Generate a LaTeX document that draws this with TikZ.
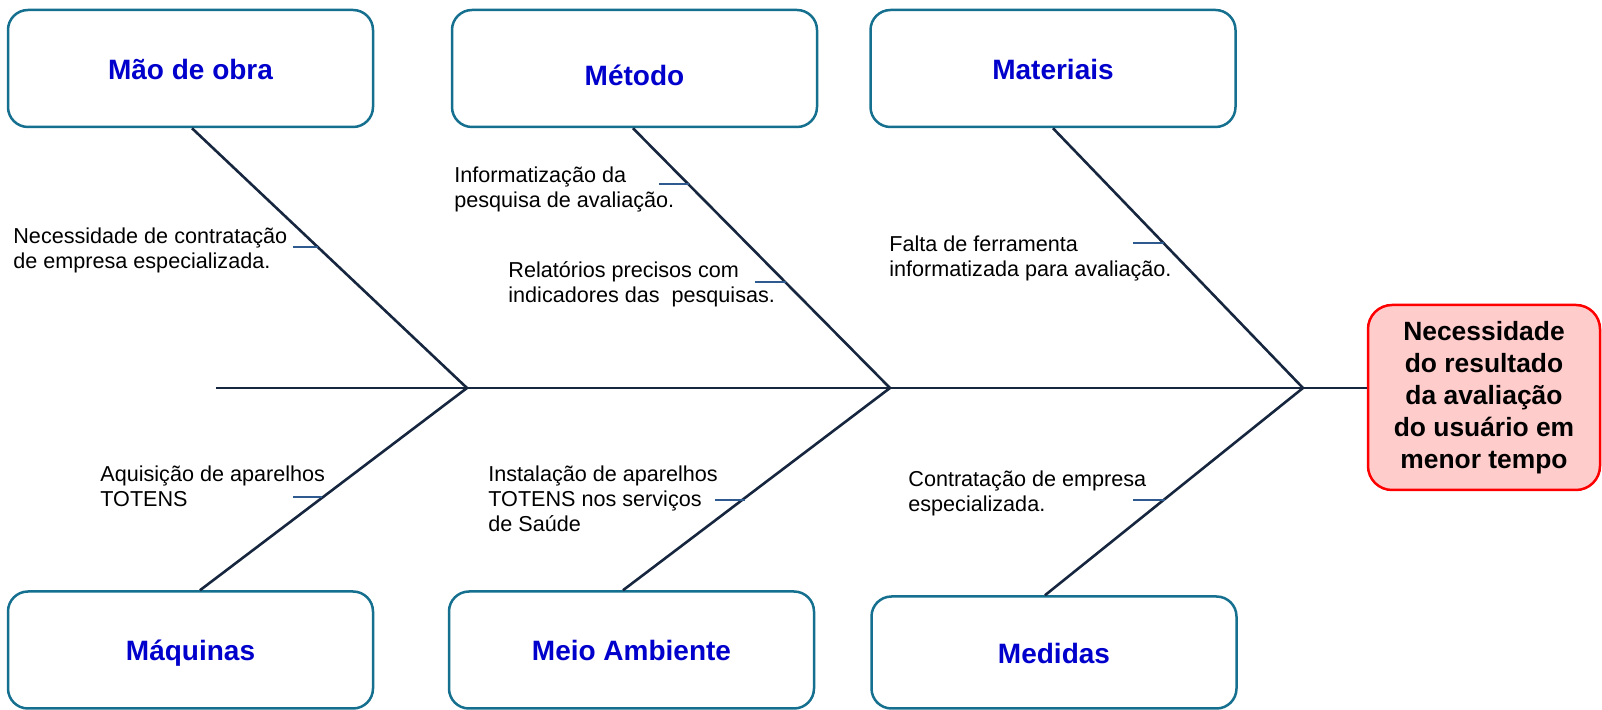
\documentclass[tikz,border=0pt]{standalone}
\usepackage{fontspec}
\setmainfont{Liberation Sans}
\definecolor{boxc}{HTML}{15708F}
\definecolor{titc}{HTML}{0000CC}
\definecolor{bonec}{HTML}{17263F}
\definecolor{tickc}{HTML}{2F5A8F}
\definecolor{effc}{HTML}{FFCCCC}
\definecolor{effd}{HTML}{FF0000}
\begin{document}
\begin{tikzpicture}[x=0.5pt,y=-0.5pt,
  cat/.style={draw=boxc, line width=1.25pt, rounded corners=10pt,
    minimum width=182.5pt, minimum height=58.5pt, inner sep=0pt, fill=white,
    font=\fontsize{14}{16}\selectfont\bfseries, text=titc,
    text height=11pt, text depth=0pt},
  bone/.style={draw=bonec, line width=1.3pt},
  tickl/.style={draw=tickc, line width=1pt},
  lbl/.style={anchor=base west, inner sep=0pt,
    font=\fontsize{10.8}{12.5}\selectfont, text=black},
  effect/.style={draw=effd, fill=effc, line width=1.25pt, rounded corners=12pt,
    minimum width=116pt, minimum height=92.5pt, inner sep=0pt, align=center,
    font=\fontsize{13.2}{16}\selectfont\bfseries, text=black}]
\useasboundingbox (0,0) rectangle (1602,710);

% category boxes
\node[cat] (mao) at (190.5,68.5) {Mão de obra};
\node[cat, text height=17.5pt] (met) at (634.5,68.5) {Método};
\node[cat] (mat) at (1053,68.5) {Materiais};
\node[cat] (maq) at (190.5,650) {Máquinas};
\node[cat] (mei) at (631.5,650) {Meio Ambiente};
\node[cat, minimum height=56pt] (med) at (1054,652.5) {Medidas};

% effect
\node[effect] (eff) at (1484,397.5) {Necessidade\\do resultado\\da avaliação\\do usuário em\\menor tempo};

% spine and junctions
\coordinate (tail) at (216,388);
\coordinate (j1) at (467,388);
\coordinate (j2) at (890,388);
\coordinate (j3) at (1303,388);
\draw[bone] (tail) -- (tail -| eff.west);

% bones
\draw[bone] ([xshift=0.75pt]mao.south) -- (j1);
\draw[bone] ([xshift=-0.75pt]met.south) -- (j2);
\draw[bone] (mat.south) -- (j3);
\draw[bone] (j1) -- ([xshift=4.75pt]maq.north);
\draw[bone] (j2) -- ([xshift=-4.25pt]mei.north);
\draw[bone] (j3) -- ([xshift=-4.5pt]med.north);

% ticks
\coordinate (t1a) at (293,247);  \coordinate (t1b) at (318,247);
\coordinate (t2a) at (659,184);  \coordinate (t2b) at (689,184);
\coordinate (t3a) at (755,282);  \coordinate (t3b) at (786,282);
\coordinate (t4a) at (1133,243); \coordinate (t4b) at (1164,243);
\coordinate (t5a) at (293,497);  \coordinate (t5b) at (322,497);
\coordinate (t6a) at (715,500);  \coordinate (t6b) at (745,500);
\coordinate (t7a) at (1133,500); \coordinate (t7b) at (1165,500);
\draw[tickl] (t1a) -- (t1b);
\draw[tickl] (t2a) -- (t2b);
\draw[tickl] (t3a) -- (t3b);
\draw[tickl] (t4a) -- (t4b);
\draw[tickl] (t5a) -- (t5b);
\draw[tickl] (t6a) -- (t6b);
\draw[tickl] (t7a) -- (t7b);

% labels
\node[lbl] (l1) at (13,244) {\vtop{\hbox{Necessidade de contratação}\hbox{de empresa especializada.}}};
\node[lbl] (l2) at (454,183) {\vtop{\hbox{Informatização da}\hbox{pesquisa de avaliação.}}};
\node[lbl] (l3) at (508,278) {\vtop{\hbox{Relatórios precisos com}\hbox{indicadores das~ pesquisas.}}};
\node[lbl] (l4) at (889,252) {\vtop{\hbox{Falta de ferramenta}\hbox{informatizada para avaliação.}}};
\node[lbl] (l5) at (100,482) {\vtop{\hbox{Aquisição de aparelhos}\hbox{TOTENS}}};
\node[lbl] (l6) at (488,482) {\vtop{\hbox{Instalação de aparelhos}\hbox{TOTENS nos serviços}\hbox{de Saúde}}};
\node[lbl] (l7) at (908,487) {\vtop{\hbox{Contratação de empresa}\hbox{especializada.}}};
\end{tikzpicture}
\end{document}
